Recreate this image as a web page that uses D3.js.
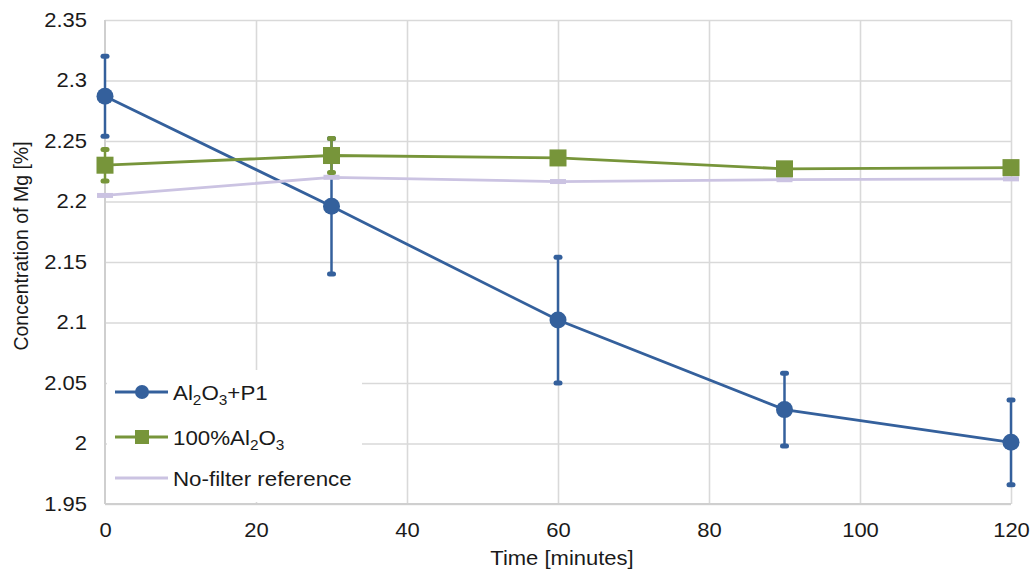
<!DOCTYPE html>
<html>
<head>
<meta charset="utf-8">
<script src="https://cdn.jsdelivr.net/npm/d3@7/dist/d3.min.js"></script>
<style>
  html, body { margin: 0; padding: 0; background: #ffffff; }
  svg { display: block; font-family: "Liberation Sans", Arial, sans-serif; }
</style>
</head>
<body>
<svg id="chart" width="1033" height="573"></svg>
<script>
// Sampling times (minutes)
const times = [0, 30, 60, 90, 120];

// Al2O3 + P1 filter: mean Mg concentration and error
const p1Mean = [2.287, 2.196, 2.102, 2.028, 2.001];
const p1Err  = [0.033, 0.056, 0.052, 0.030, 0.035];

// 100% Al2O3 filter
const aluminaMean = [2.230, 2.238, 2.236, 2.227, 2.228];
const aluminaErr  = [0.013, 0.014, 0, 0, 0];

// Melt without filter
const referenceMean = [2.205, 2.220, 2.2165, 2.218, 2.2187];

// Axis ticks
const xTicks = [0, 20, 40, 60, 80, 100, 120];
const yTicks = [1.95, 2.0, 2.05, 2.1, 2.15, 2.2, 2.25, 2.3, 2.35];
const yTickLabels = ["1.95", "2", "2.05", "2.1", "2.15", "2.2", "2.25", "2.3", "2.35"];

const colors = { p1: "#34609c", alumina: "#77953a", reference: "#cbc3e2" };
const textColor = "#1a1a1a";
const widen = "scale(1.1,1)";   // slightly wide lettering

const svg = d3.select("#chart");
const plot = { left: 105, right: 1011, top: 20, bottom: 504 };

const x = d3.scaleLinear().domain([0, 120]).range([plot.left, plot.right]);
const y = d3.scaleLinear().domain([1.95, 2.35]).range([plot.bottom, plot.top]);

// Gridlines
const grid = svg.append("g");
grid.append("g")
  .attr("transform", `translate(${plot.left},0)`)
  .call(d3.axisLeft(y).tickValues(yTicks).tickSize(-(plot.right - plot.left)).tickFormat(""))
  .call(g => g.select(".domain").remove())
  .call(g => g.selectAll("line").attr("stroke", "#d9d9d9").attr("stroke-width", 1.6));
grid.append("g")
  .attr("transform", `translate(0,${plot.bottom})`)
  .call(d3.axisBottom(x).tickValues(xTicks.filter(t => t > 0)).tickSize(-(plot.bottom - plot.top)).tickFormat(""))
  .call(g => g.select(".domain").remove())
  .call(g => g.selectAll("line").attr("stroke", "#d9d9d9").attr("stroke-width", 1.6));

// Axis lines
svg.append("line").attr("x1", plot.left).attr("x2", plot.left).attr("y1", plot.top).attr("y2", plot.bottom)
  .attr("stroke", "#cfcfcf").attr("stroke-width", 2);
svg.append("line").attr("x1", plot.left).attr("x2", plot.right).attr("y1", plot.bottom).attr("y2", plot.bottom)
  .attr("stroke", "#cfcfcf").attr("stroke-width", 2);

// Tick labels
svg.append("g")
  .attr("transform", `translate(${plot.left - 18},0)`)
  .call(d3.axisLeft(y).tickValues(yTicks).tickSize(0).tickPadding(0)
    .tickFormat((d, i) => yTickLabels[i]))
  .call(g => g.select(".domain").remove())
  .call(g => g.selectAll("text").attr("font-size", 20).attr("fill", textColor)
    .attr("transform", widen).attr("font-family", "Liberation Sans, Arial, sans-serif"));

svg.append("g")
  .attr("transform", `translate(0,${plot.bottom + 19})`)
  .call(d3.axisBottom(x).tickValues(xTicks).tickSize(0).tickPadding(0).tickFormat(d3.format("d")))
  .call(g => g.select(".domain").remove())
  .call(g => g.selectAll("text").attr("font-size", 20).attr("fill", textColor)
    .attr("transform", widen).attr("font-family", "Liberation Sans, Arial, sans-serif"));

// Axis titles
svg.append("text")
  .attr("transform", `translate(${(plot.left + plot.right) / 2 + 4},565) ${widen}`)
  .attr("text-anchor", "middle").attr("font-size", 20).attr("fill", textColor)
  .text("Time [minutes]");
svg.append("text")
  .attr("transform", `translate(28,246) rotate(-90)`)
  .attr("text-anchor", "middle").attr("font-size", 19.5).attr("fill", textColor)
  .text("Concentration of Mg [%]");

const line = d3.line().x(d => x(d[0])).y(d => y(d[1]));

// Error bars with short rounded caps
function errorBars(g, means, errs, color) {
  times.forEach((t, i) => {
    if (!errs[i]) return;
    const cx = x(t), y0 = y(means[i] - errs[i]), y1 = y(means[i] + errs[i]);
    g.append("line").attr("x1", cx).attr("x2", cx).attr("y1", y0).attr("y2", y1)
      .attr("stroke", color).attr("stroke-width", 2.5);
    [y0, y1].forEach(yy => g.append("line")
      .attr("x1", cx - 2).attr("x2", cx + 2).attr("y1", yy).attr("y2", yy)
      .attr("stroke", color).attr("stroke-width", 5).attr("stroke-linecap", "round"));
  });
}

// Al2O3 + P1 series
const gP1 = svg.append("g");
errorBars(gP1, p1Mean, p1Err, colors.p1);
gP1.append("path").datum(times.map((t, i) => [t, p1Mean[i]])).attr("d", line)
  .attr("fill", "none").attr("stroke", colors.p1).attr("stroke-width", 2.8);
gP1.selectAll("circle").data(times).join("circle")
  .attr("cx", d => x(d)).attr("cy", (d, i) => y(p1Mean[i])).attr("r", 8.5)
  .attr("fill", colors.p1);

// No-filter reference series
const gRef = svg.append("g");
gRef.append("path").datum(times.map((t, i) => [t, referenceMean[i]])).attr("d", line)
  .attr("fill", "none").attr("stroke", colors.reference).attr("stroke-width", 2.8);
gRef.selectAll("line.dash").data(times).join("line").attr("class", "dash")
  .attr("x1", d => x(d) - 8).attr("x2", d => x(d) + 8)
  .attr("y1", (d, i) => y(referenceMean[i])).attr("y2", (d, i) => y(referenceMean[i]))
  .attr("stroke", colors.reference).attr("stroke-width", 5);

// 100% Al2O3 series
const gAl = svg.append("g");
errorBars(gAl, aluminaMean, aluminaErr, colors.alumina);
gAl.append("path").datum(times.map((t, i) => [t, aluminaMean[i]])).attr("d", line)
  .attr("fill", "none").attr("stroke", colors.alumina).attr("stroke-width", 2.8);
gAl.selectAll("rect").data(times).join("rect")
  .attr("x", d => x(d) - 8.5).attr("y", (d, i) => y(aluminaMean[i]) - 8.5)
  .attr("width", 17).attr("height", 17).attr("fill", colors.alumina);

// Legend
const legend = svg.append("g");
legend.append("rect").attr("x", 107).attr("y", 370).attr("width", 255).attr("height", 132)
  .attr("fill", "#ffffff");
const entries = [
  { key: "p1", y: 392, parts: [["Al", 0], ["2", 1], ["O", 0], ["3", 1], ["+P1", 0]] },
  { key: "alumina", y: 437, parts: [["100%Al", 0], ["2", 1], ["O", 0], ["3", 1]] },
  { key: "reference", y: 478, parts: [["No-filter reference", 0]] }
];
entries.forEach(e => {
  legend.append("line").attr("x1", 115).attr("x2", 168).attr("y1", e.y).attr("y2", e.y)
    .attr("stroke", colors[e.key]).attr("stroke-width", 2.8);
  if (e.key === "p1") {
    legend.append("circle").attr("cx", 142).attr("cy", e.y).attr("r", 7).attr("fill", colors.p1);
  } else if (e.key === "alumina") {
    legend.append("rect").attr("x", 135).attr("y", e.y - 7).attr("width", 14).attr("height", 14)
      .attr("fill", colors.alumina);
  }
  const t = legend.append("text")
    .attr("transform", `translate(173,${e.y + 7.5}) ${widen}`)
    .attr("font-size", 20.3).attr("fill", textColor);
  let wasSub = false;
  e.parts.forEach(([s, sub]) => {
    const ts = t.append("tspan").text(s);
    if (sub) ts.attr("font-size", 14).attr("dy", wasSub ? 0 : 5);
    else ts.attr("dy", wasSub ? -5 : 0);
    wasSub = !!sub;
  });
});
</script>
</body>
</html>
